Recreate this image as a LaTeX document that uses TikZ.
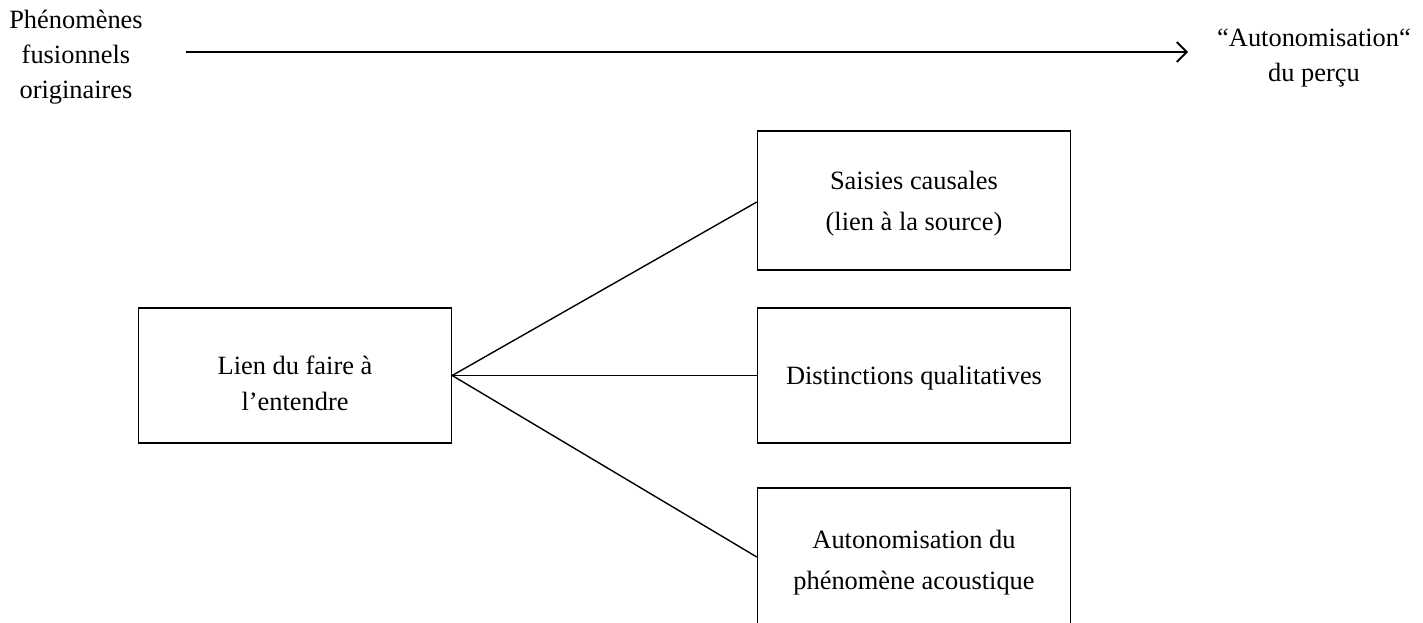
\documentclass[tikz,border=0pt]{standalone}
\usepackage{fontspec}
\setmainfont{Liberation Serif}
\usetikzlibrary{arrows.meta}
\tikzset{
  boite/.style={draw, line width=1.4pt, minimum width=313pt, inner sep=0pt},
  texte/.style={align=center, inner sep=0pt, font=\fontsize{26.4}{#1}\selectfont},
  texte/.default=41,
  titre/.style={align=center, inner sep=0pt, font=\fontsize{26.4}{35}\selectfont},
  lien/.style={line width=1.4pt},
}

\begin{document}
\begin{tikzpicture}[x=1pt, y=-1pt]
  \useasboundingbox (0,0) rectangle (1423,623);
  % top row
  \node[titre] (phen) at (76,57) {Phénomènes\\fusionnels\\originaires};
  \node[titre] (auto) at (1314,58) {“Autonomisation“\\du perçu};
  \draw[line width=1.8pt, -{Straight Barb[length=10pt, width=20pt, line width=1.8pt]},
        shorten <=43pt, shorten >=29pt] ([yshift=5pt]phen.east) -- ([yshift=6pt]auto.west);
  % boxes
  \node[boite, minimum height=135pt,
        label={[texte=36, yshift=-8pt]center:{Lien du faire à\\l’entendre}}] (lien) at (295,375.5) {};
  \node[boite, minimum height=139pt,
        label={[texte, yshift=-3pt]center:{Saisies causales\\(lien à la source)}}] (saisies) at (914,200.5) {};
  \node[boite, minimum height=135pt,
        label={[texte, yshift=-3pt]center:{Distinctions qualitatives}}] (distinct) at (914,375.5) {};
  \node[boite, minimum height=144pt,
        label={[texte, yshift=-3pt]center:{Autonomisation du\\phénomène acoustique}}] (acoust) at (914,560) {};
  % branches
  \draw[lien] (lien.east) -- ([yshift=-1.5pt]saisies.west);
  \draw[lien] (lien.east) -- (distinct.west);
  \draw[lien] (lien.east) -- ([yshift=3pt]acoust.west);
\end{tikzpicture}
\end{document}
